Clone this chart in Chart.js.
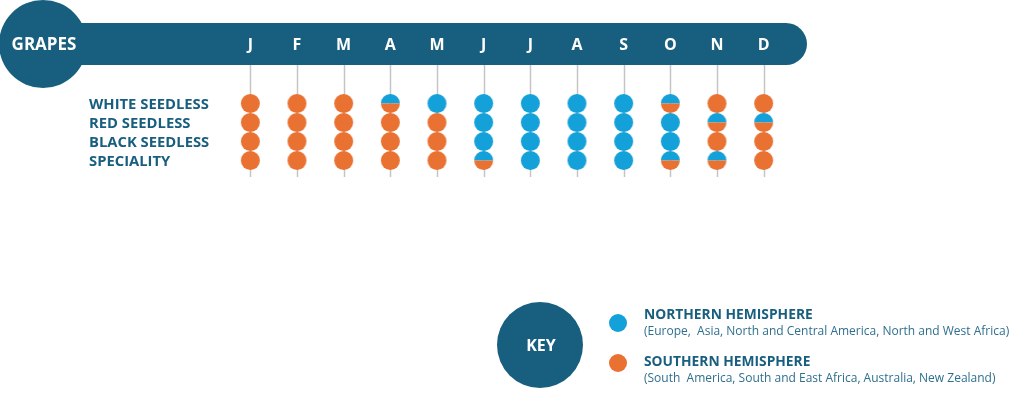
<!DOCTYPE html>
<html>
<head>
<meta charset="utf-8">
<script src="https://cdn.jsdelivr.net/npm/chart.js@4"></script>
<style>
  html, body { margin: 0; padding: 0; background: #fff; }
  canvas { display: block; }
</style>
</head>
<body>
<canvas id="grapes" width="1024" height="394"></canvas>
<script>
// ---------- datos ----------
const months = ['J', 'F', 'M', 'A', 'M', 'J', 'J', 'A', 'S', 'O', 'N', 'D'];
const varieties = ['WHITE SEEDLESS', 'RED SEEDLESS', 'BLACK SEEDLESS', 'SPECIALITY'];
// N = hemisferio norte, S = sur, B = ambos (mitad y mitad)
const whiteSeedless = ['S', 'S', 'S', 'B', 'N', 'N', 'N', 'N', 'N', 'B', 'S', 'S'];
const redSeedless   = ['S', 'S', 'S', 'S', 'S', 'N', 'N', 'N', 'N', 'N', 'B', 'B'];
const blackSeedless = ['S', 'S', 'S', 'S', 'S', 'N', 'N', 'N', 'N', 'N', 'S', 'S'];
const speciality    = ['S', 'S', 'S', 'S', 'S', 'B', 'N', 'N', 'N', 'B', 'B', 'S'];
const supply = [whiteSeedless, redSeedless, blackSeedless, speciality];

const keyCodes = ['N', 'S'];
const keyTitles = ['NORTHERN HEMISPHERE', 'SOUTHERN HEMISPHERE'];
const keySubs = [
  '(Europe,  Asia, North and Central America, North and West Africa)',
  '(South  America, South and East Africa, Australia, New Zealand)'
];

// ---------- estilos ----------
const NAVY = '#185F7F';
const BLUE = '#14A0D8';
const ORANGE = '#E97132';
const GRID = '#C4C4C4';
const FONT = "'Open Sans', 'DejaVu Sans', sans-serif";
const R = 9.5;
// posiciones del key: punto, titulo, subtitulo
const KEY_Y = [{ dot: 323, title: 315, sub: 332 }, { dot: 363, title: 362, sub: 379 }];

// iconos de punto (canvas chicos)
function dotIcon(code) {
  const c = document.createElement('canvas');
  const s = Math.ceil(R * 2 + 2);
  c.width = s; c.height = s;
  const g = c.getContext('2d');
  const m = s / 2;
  if (code === 'B') {
    g.fillStyle = BLUE;
    g.beginPath(); g.arc(m, m, R, Math.PI, 0); g.closePath(); g.fill();
    g.fillStyle = ORANGE;
    g.beginPath(); g.arc(m, m, R, 0, Math.PI); g.closePath(); g.fill();
  } else {
    g.fillStyle = code === 'N' ? BLUE : ORANGE;
    g.beginPath(); g.arc(m, m, R, 0, Math.PI * 2); g.fill();
  }
  return c;
}
const ICONS = { N: dotIcon('N'), S: dotIcon('S'), B: dotIcon('B') };

// puntos: x = indice de mes, y = indice de variedad
const points = [];
const styles = [];
supply.forEach((row, r) => {
  row.forEach((code, m) => {
    points.push({ x: m, y: r });
    styles.push(ICONS[code]);
  });
});

// ---------- decoracion (barra, etiquetas, key) ----------
const decor = {
  id: 'decor',
  beforeDatasetsDraw(chart) {
    const { ctx, scales: { x, y } } = chart;
    ctx.save();
    // lineas verticales
    ctx.strokeStyle = GRID;
    ctx.lineWidth = 1.5;
    months.forEach((_, i) => {
      const px = Math.round(x.getPixelForValue(i)) + 0.5;
      ctx.beginPath(); ctx.moveTo(px, 64); ctx.lineTo(px, 177); ctx.stroke();
    });
    // barra
    ctx.fillStyle = NAVY;
    ctx.beginPath();
    ctx.moveTo(60, 23);
    ctx.lineTo(786, 23);
    ctx.arc(786, 44, 21, -Math.PI / 2, Math.PI / 2);
    ctx.lineTo(60, 65);
    ctx.closePath();
    ctx.fill();
    ctx.beginPath(); ctx.arc(43, 44, 44, 0, Math.PI * 2); ctx.fill();

    ctx.fillStyle = '#fff';
    ctx.textAlign = 'center';
    ctx.textBaseline = 'middle';
    ctx.font = `bold 17px ${FONT}`;
    ctx.fillText('GRAPES', 44, 45);
    ctx.font = `bold 16px ${FONT}`;
    months.forEach((mo, i) => ctx.fillText(mo, x.getPixelForValue(i), 45));

    // filas
    ctx.fillStyle = NAVY;
    ctx.textAlign = 'left';
    ctx.font = `bold 14.8px ${FONT}`;
    varieties.forEach((v, i) => ctx.fillText(v, 89, y.getPixelForValue(i) + 1));

    // key
    ctx.beginPath(); ctx.arc(540, 345, 43, 0, Math.PI * 2); ctx.fill();
    ctx.fillStyle = '#fff';
    ctx.textAlign = 'center';
    ctx.font = `bold 16px ${FONT}`;
    ctx.fillText('KEY', 541, 346);

    keyCodes.forEach((code, i) => {
      const p = KEY_Y[i];
      ctx.fillStyle = code === 'N' ? BLUE : ORANGE;
      ctx.beginPath(); ctx.arc(618, p.dot, 9, 0, Math.PI * 2); ctx.fill();
      ctx.textAlign = 'left';
      ctx.fillStyle = NAVY;
      ctx.font = `bold 13.8px ${FONT}`;
      ctx.fillText(keyTitles[i], 644, p.title);
      ctx.fillStyle = '#2E6F8E';
      ctx.font = `12px ${FONT}`;
      ctx.fillText(keySubs[i], 644, p.sub);
    });
    ctx.restore();
  }
};

// ---------- chart ----------
new Chart(document.getElementById('grapes'), {
  type: 'scatter',
  data: {
    datasets: [{
      label: 'Supply',
      data: points,
      pointStyle: styles,
      pointRadius: R,
      pointHoverRadius: R
    }]
  },
  options: {
    responsive: false,
    animation: false,
    events: [],
    layout: { padding: { left: 227, right: 237, top: 94, bottom: 224 } },
    plugins: { legend: { display: false }, tooltip: { enabled: false } },
    scales: {
      x: { type: 'linear', min: -0.5, max: 11.5, display: false },
      y: { type: 'linear', min: -0.5, max: 3.5, reverse: true, display: false }
    }
  },
  plugins: [decor]
});
</script>
</body>
</html>
